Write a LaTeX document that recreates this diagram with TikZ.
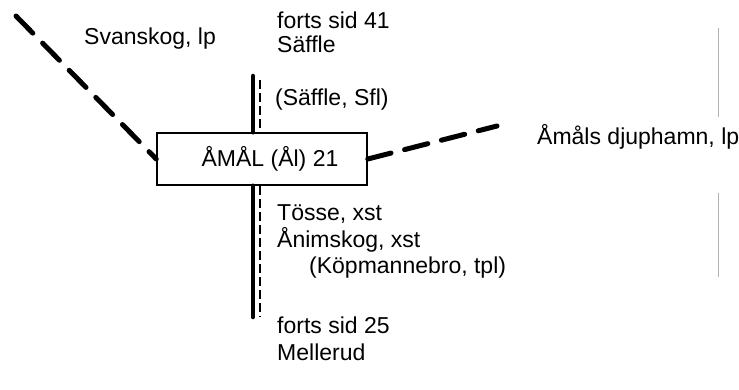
\documentclass[tikz,border=0pt]{standalone}
\usepackage{fontspec}
\setmainfont{Liberation Sans}

\begin{document}
\begin{tikzpicture}[x=1pt, y=-1pt,
      lbl/.style={anchor=base west, inner sep=0pt, font=\fontsize{23}{27}\selectfont},
      stn/.style={draw, line width=1.5pt, fill=white, minimum width=210pt,
                  minimum height=52pt, inner sep=0pt, font=\fontsize{23}{27}\selectfont},
      rail/.style={line width=4.5pt, line cap=round},
      sdash/.style={line width=1.2pt, dash pattern=on 9pt off 4pt},
      road/.style={line width=5pt, line cap=round, dash pattern=on 24pt off 14pt},
      edge/.style={gray!60, line width=0.6pt}]

    \useasboundingbox (0,0) rectangle (739,389);

    \def\tx{277}  % left edge of the texts beside the line

    % === station ===
    \node[stn] (aml) at (262,159) {\hspace*{16pt}ÅMÅL (Ål) 21};

    % === main line ===
    \coordinate (ntop) at (253,76);
    \coordinate (nbot) at (253,317);
    \coordinate (dtop) at (260,80);
    \coordinate (dbot) at (260,316);
    \draw[rail] (ntop) -- (ntop |- aml.north);
    \draw[rail] (nbot |- aml.south) -- (nbot);
    \draw[sdash] (dtop) -- (dtop |- aml.north);
    \draw[sdash] (dbot |- aml.south) -- (dbot);

    % === branch lines ===
    \coordinate (sv) at (16,16);
    \coordinate (dj) at (497,126);
    \draw[road] (sv) -- (aml.west);
    \draw[road] (aml.east) -- (dj);

    % === texts ===
    \node[lbl] (f41) at (\tx,28)  {forts sid 41};
    \node[lbl] (sfl) at (\tx,52)  {Säffle};
    \node[lbl] (svk) at (84,44)   {Svanskog, lp};
    \node[lbl] (sfs) at (275,105) {(Säffle, Sfl)};
    \node[lbl] (djh) at (537,144) {Åmåls djuphamn, lp};
    \node[lbl] (tos) at (\tx,220) {Tösse, xst};
    \node[lbl] (ans) at (\tx,247) {Ånimskog, xst};
    \node[lbl] (kpm) at (309,273) {(Köpmannebro, tpl)};
    \node[lbl] (f25) at (\tx,333) {forts sid 25};
    \node[lbl] (mld) at (\tx,360) {Mellerud};

    % === page edge ===
    \coordinate (e1) at (718,28);
    \coordinate (e2) at (718,117);
    \coordinate (e3) at (718,193);
    \coordinate (e4) at (718,277);
    \draw[edge] (e1) -- (e2);
    \draw[edge] (e3) -- (e4);

\end{tikzpicture}
\end{document}
